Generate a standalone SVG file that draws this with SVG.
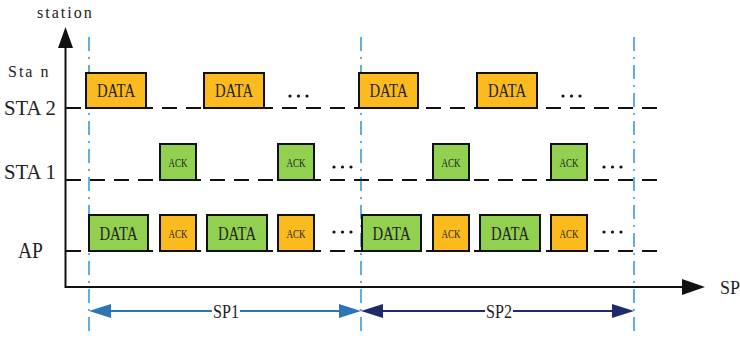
<svg xmlns="http://www.w3.org/2000/svg" width="740" height="338" viewBox="0 0 740 338">
  <style>
    .lbl { fill: #222; }
    .data { fill: #FBBB1F; stroke: #111; stroke-width: 2; }
    .grn { fill: #92D050; stroke: #111; stroke-width: 2; }
    .tline { stroke: #111; stroke-width: 2; stroke-dasharray: 15 9; fill: none; }
    .sp { stroke: #3A9AD9; stroke-width: 1.6; stroke-dasharray: 14 6 2 6; fill: none; }
    .dt { font-size: 19px; fill: #222; text-anchor: middle; }
    .ack { font-size: 13px; fill: #222; text-anchor: middle; }
    .dots { fill: #111; }
  </style>

  <g font-family="Liberation Serif, DejaVu Serif, serif">
  <!-- axes -->
  <g id="axes">
    <line x1="65.5" y1="288" x2="65.5" y2="46" stroke="#111" stroke-width="2"/>
    <path d="M58,48 L65.5,27 L73,48 z" fill="#111"/>
    <line x1="65" y1="287" x2="684" y2="287" stroke="#111" stroke-width="2"/>
    <path d="M682,279 L705,287 L682,295 z" fill="#111"/>
    <text class="lbl" x="37" y="18" font-size="16" letter-spacing="2">station</text>
    <text class="lbl" x="720" y="294" font-size="18" textLength="20" lengthAdjust="spacingAndGlyphs">SP</text>
    <text class="lbl" x="8" y="77" font-size="16" letter-spacing="2">Sta n</text>
    <text class="lbl" x="4" y="115" font-size="21" textLength="52" lengthAdjust="spacingAndGlyphs">STA 2</text>
    <text class="lbl" x="4" y="179" font-size="21" textLength="52" lengthAdjust="spacingAndGlyphs">STA 1</text>
    <text class="lbl" x="18" y="258" font-size="24" textLength="25" lengthAdjust="spacingAndGlyphs">AP</text>
  </g>

  <!-- period boundaries -->
  <g id="boundaries">
    <line class="sp" x1="89" y1="37" x2="89" y2="332"/>
    <line class="sp" x1="361" y1="37" x2="361" y2="332"/>
    <line class="sp" x1="634" y1="37" x2="634" y2="332"/>
  </g>

  <!-- station timelines -->
  <g id="timelines">
    <line class="tline" x1="66" y1="108" x2="660" y2="108"/>
    <line class="tline" x1="66" y1="180" x2="660" y2="180"/>
    <line class="tline" x1="66" y1="251" x2="660" y2="251"/>
  </g>

  <!-- STA 2 -->
  <g id="sta2">
    <rect class="data" x="86" y="73" width="60" height="35"/><text class="dt" x="116" y="97" textLength="38" lengthAdjust="spacingAndGlyphs">DATA</text>
    <rect class="data" x="204" y="73" width="60" height="35"/><text class="dt" x="234" y="97" textLength="38" lengthAdjust="spacingAndGlyphs">DATA</text>
    <rect class="data" x="359" y="73" width="59" height="35"/><text class="dt" x="388.5" y="97" textLength="38" lengthAdjust="spacingAndGlyphs">DATA</text>
    <rect class="data" x="477" y="73" width="60" height="35"/><text class="dt" x="507" y="97" textLength="38" lengthAdjust="spacingAndGlyphs">DATA</text>
    <g class="dots"><circle cx="290" cy="96" r="1.6"/><circle cx="298.5" cy="96" r="1.6"/><circle cx="307" cy="96" r="1.6"/></g>
    <g class="dots"><circle cx="563" cy="96" r="1.6"/><circle cx="571.5" cy="96" r="1.6"/><circle cx="580" cy="96" r="1.6"/></g>
  </g>

  <!-- STA 1 -->
  <g id="sta1">
    <rect class="grn" x="160" y="144" width="36" height="36"/><text class="ack" x="178" y="167" textLength="19" lengthAdjust="spacingAndGlyphs">ACK</text>
    <rect class="grn" x="278" y="144" width="36" height="36"/><text class="ack" x="296" y="167" textLength="19" lengthAdjust="spacingAndGlyphs">ACK</text>
    <rect class="grn" x="433" y="144" width="36" height="36"/><text class="ack" x="451" y="167" textLength="19" lengthAdjust="spacingAndGlyphs">ACK</text>
    <rect class="grn" x="551" y="144" width="36" height="36"/><text class="ack" x="569" y="167" textLength="19" lengthAdjust="spacingAndGlyphs">ACK</text>
    <g class="dots"><circle cx="334" cy="167" r="1.6"/><circle cx="342.5" cy="167" r="1.6"/><circle cx="351" cy="167" r="1.6"/></g>
    <g class="dots"><circle cx="604" cy="167" r="1.6"/><circle cx="612.5" cy="167" r="1.6"/><circle cx="621" cy="167" r="1.6"/></g>
  </g>

  <!-- AP -->
  <g id="ap">
    <rect class="grn" x="89" y="215" width="59" height="36"/><text class="dt" x="118.5" y="240" textLength="38" lengthAdjust="spacingAndGlyphs">DATA</text>
    <rect class="data" x="160" y="215" width="36" height="36"/><text class="ack" x="178" y="238" textLength="19" lengthAdjust="spacingAndGlyphs">ACK</text>
    <rect class="grn" x="207" y="215" width="60" height="36"/><text class="dt" x="237" y="240" textLength="38" lengthAdjust="spacingAndGlyphs">DATA</text>
    <rect class="data" x="278" y="215" width="36" height="36"/><text class="ack" x="296" y="238" textLength="19" lengthAdjust="spacingAndGlyphs">ACK</text>
    <rect class="grn" x="362" y="215" width="59" height="36"/><text class="dt" x="391.5" y="240" textLength="38" lengthAdjust="spacingAndGlyphs">DATA</text>
    <rect class="data" x="433" y="215" width="36" height="36"/><text class="ack" x="451" y="238" textLength="19" lengthAdjust="spacingAndGlyphs">ACK</text>
    <rect class="grn" x="480" y="215" width="60" height="36"/><text class="dt" x="510" y="240" textLength="38" lengthAdjust="spacingAndGlyphs">DATA</text>
    <rect class="data" x="551" y="215" width="36" height="36"/><text class="ack" x="569" y="238" textLength="19" lengthAdjust="spacingAndGlyphs">ACK</text>
    <g class="dots"><circle cx="334" cy="232" r="1.6"/><circle cx="342.5" cy="232" r="1.6"/><circle cx="351" cy="232" r="1.6"/></g>
    <g class="dots"><circle cx="604" cy="232" r="1.6"/><circle cx="612.5" cy="232" r="1.6"/><circle cx="621" cy="232" r="1.6"/></g>
  </g>

  <!-- service period spans -->
  <g id="connectors">
    <line x1="110" y1="311" x2="212" y2="311" stroke="#2E75B6" stroke-width="2"/>
    <line x1="240" y1="311" x2="340" y2="311" stroke="#2E75B6" stroke-width="2"/>
    <path d="M89,311 L111,304 L111,318 z" fill="#2E75B6"/>
    <path d="M361,311 L339,304 L339,318 z" fill="#2E75B6"/>
    <text class="lbl" x="226" y="318" font-size="18" text-anchor="middle" textLength="26" lengthAdjust="spacingAndGlyphs">SP1</text>

    <line x1="382" y1="311" x2="485" y2="311" stroke="#1F2A6B" stroke-width="2"/>
    <line x1="513" y1="311" x2="613" y2="311" stroke="#1F2A6B" stroke-width="2"/>
    <path d="M361,311 L383,304 L383,318 z" fill="#1F2A6B"/>
    <path d="M634,311 L612,304 L612,318 z" fill="#1F2A6B"/>
    <text class="lbl" x="499" y="318" font-size="18" text-anchor="middle" textLength="26" lengthAdjust="spacingAndGlyphs">SP2</text>
  </g>
  </g>
</svg>
